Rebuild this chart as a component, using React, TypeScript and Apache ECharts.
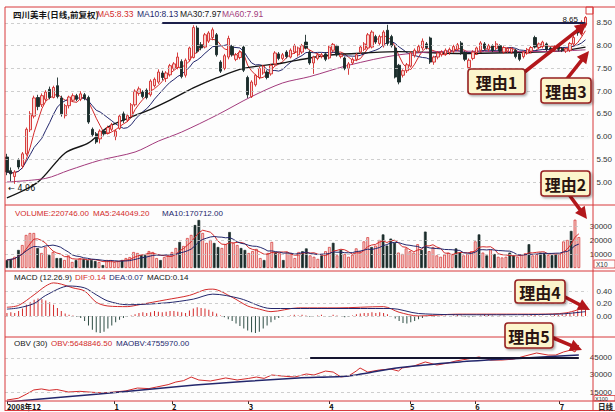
import React, { useEffect, useRef } from "react";
import * as echarts from "echarts";

// ---------- DATA ----------
const OPEN = [
  5.55, 5.25, 5.12, 5.48, 5.35, 5.62, 6.15, 6.45, 6.86, 6.7,
  6.82, 7.04, 6.86, 7.12, 6.85, 6.46, 6.68, 6.8, 6.9, 6.82,
  6.92, 6.86, 6.16, 6.06, 5.95, 6.12, 6.08, 6.16, 6.0, 6.18,
  6.5, 6.36, 6.45, 6.7, 6.95, 6.98, 7.02, 6.92, 7.12, 7.2,
  7.4, 7.28, 7.36, 7.5, 7.52, 7.65, 7.35, 7.69, 7.74, 8.39,
  8.02, 7.97, 8.1, 8.18, 8.24, 7.64, 7.5, 7.75, 7.98, 7.7,
  7.74, 7.97, 7.3, 6.88, 7.14, 7.3, 7.4, 7.42, 7.38, 7.6,
  7.82, 7.72, 7.86, 7.75, 7.86, 7.8, 7.86, 8.08, 7.86, 7.62,
  7.72, 7.76, 7.82, 7.73, 7.9, 7.99, 7.76, 7.73, 7.5, 7.62,
  7.7, 7.86, 7.92, 7.95, 7.97, 8.2, 8.05, 8.0, 8.34, 8.2,
  7.95, 7.57, 7.35, 7.45, 7.55, 7.78, 7.88, 7.95, 8.04, 8.17,
  7.64, 7.75, 7.8, 7.82, 7.85, 7.88, 7.92, 8.06, 7.85, 7.52,
  7.72, 7.85, 7.9, 8.04, 7.92, 8.0, 7.94, 8.0, 7.86, 7.88,
  7.86, 7.9, 7.82, 7.76, 7.84, 7.88, 8.18, 7.96, 7.98, 8.04,
  7.95, 7.9, 7.98, 7.94, 7.88, 7.9, 8.04, 8.36, 8.26, 8.45,
];
const CLOSE = [
  5.22, 5.18, 5.22, 5.33, 5.62, 6.16, 6.5, 6.85, 6.66, 6.9,
  6.98, 6.86, 7.08, 6.88, 6.5, 6.68, 6.87, 6.9, 6.82, 6.94,
  6.84, 6.32, 6.04, 5.88, 6.12, 6.06, 6.2, 6.26, 6.12, 6.45,
  6.36, 6.46, 6.7, 7.0, 7.05, 6.88, 6.86, 7.22, 7.26, 7.42,
  7.3, 7.4, 7.56, 7.6, 7.75, 7.32, 7.68, 7.95, 8.4, 7.88,
  7.95, 8.24, 8.28, 8.35, 7.8, 7.44, 7.78, 8.16, 7.8, 7.8,
  7.86, 7.46, 6.92, 7.2, 7.35, 7.5, 7.55, 7.3, 7.57, 7.84,
  7.72, 7.8, 7.76, 7.9, 8.0, 7.95, 8.0, 7.95, 7.62, 7.75,
  7.8, 7.8, 7.7, 7.97, 8.03, 7.8, 7.8, 7.5, 7.6, 7.7,
  7.8, 7.97, 8.04, 8.24, 8.3, 8.08, 8.2, 8.3, 8.05, 8.0,
  7.31, 7.2, 7.45, 7.58, 7.84, 7.9, 7.98, 8.1, 7.96, 7.64,
  7.75, 7.84, 7.86, 7.9, 7.92, 7.98, 8.02, 7.84, 7.7, 7.68,
  7.86, 7.95, 8.06, 7.94, 8.0, 7.9, 8.04, 7.88, 7.96, 7.94,
  7.94, 7.76, 7.7, 7.86, 7.92, 7.96, 7.97, 8.04, 8.08, 7.92,
  7.92, 7.98, 7.92, 7.9, 7.93, 8.05, 8.18, 8.28, 8.52, 8.62,
];
const LOW = [
  5.15, 5.02, 4.96, 5.28, 5.3, 5.58, 6.1, 6.4, 6.58, 6.65,
  6.78, 6.82, 6.84, 6.84, 6.44, 6.4, 6.62, 6.76, 6.78, 6.78,
  6.8, 6.28, 6.0, 5.84, 5.85, 6.02, 6.05, 6.12, 5.92, 6.15,
  6.3, 6.32, 6.42, 6.66, 6.9, 6.84, 6.82, 6.88, 7.08, 7.16,
  7.24, 7.2, 7.32, 7.46, 7.48, 7.28, 7.3, 7.65, 7.72, 7.84,
  7.9, 7.94, 8.06, 8.12, 7.76, 7.4, 7.46, 7.7, 7.76, 7.66,
  7.7, 7.42, 6.85, 6.85, 7.1, 7.26, 7.36, 7.26, 7.34, 7.56,
  7.68, 7.68, 7.72, 7.72, 7.82, 7.76, 7.82, 7.92, 7.58, 7.38,
  7.68, 7.72, 7.66, 7.7, 7.86, 7.76, 7.72, 7.46, 7.36, 7.58,
  7.66, 7.82, 7.88, 7.92, 7.94, 8.04, 8.0, 7.96, 8.0, 7.96,
  7.28, 7.15, 7.3, 7.4, 7.52, 7.74, 7.84, 7.9, 7.92, 7.6,
  7.58, 7.7, 7.76, 7.78, 7.8, 7.84, 7.88, 7.8, 7.66, 7.48,
  7.68, 7.8, 7.86, 7.9, 7.88, 7.86, 7.9, 7.84, 7.82, 7.84,
  7.82, 7.72, 7.66, 7.72, 7.8, 7.84, 7.94, 7.92, 7.94, 7.88,
  7.86, 7.86, 7.88, 7.86, 7.84, 7.86, 8.0, 8.22, 8.22, 8.4,
];
const HIGH = [
  5.62, 5.32, 5.26, 5.52, 5.66, 6.2, 6.56, 6.9, 6.92, 6.95,
  7.02, 7.1, 7.12, 7.3, 6.9, 6.72, 6.9, 6.95, 6.94, 7.0,
  6.96, 6.9, 6.2, 6.1, 6.16, 6.15, 6.24, 6.3, 6.16, 6.48,
  6.55, 6.5, 6.74, 7.04, 7.1, 7.02, 7.06, 7.26, 7.3, 7.48,
  7.45, 7.44, 7.6, 7.64, 7.85, 7.7, 7.72, 7.98, 8.45, 8.44,
  8.08, 8.28, 8.32, 8.4, 8.28, 7.68, 7.82, 8.22, 8.02, 7.84,
  7.9, 8.0, 7.34, 7.24, 7.38, 7.54, 7.58, 7.46, 7.6, 7.88,
  7.86, 7.84, 7.9, 7.94, 8.04, 7.98, 8.04, 8.24, 7.9, 7.78,
  7.84, 7.84, 7.86, 8.0, 8.06, 8.02, 7.84, 7.76, 7.64, 7.74,
  7.84, 8.0, 8.08, 8.28, 8.34, 8.24, 8.24, 8.34, 8.46, 8.24,
  8.0, 7.6, 7.48, 7.62, 7.88, 7.94, 8.02, 8.16, 8.08, 8.2,
  7.78, 7.88, 7.9, 7.94, 7.96, 8.02, 8.06, 8.1, 7.88, 7.72,
  7.9, 7.98, 8.1, 8.08, 8.04, 8.03, 8.1, 8.03, 7.99, 7.97,
  7.97, 7.93, 7.85, 7.89, 7.95, 7.99, 8.22, 8.07, 8.11, 8.07,
  7.98, 8.01, 8.01, 7.97, 7.96, 8.08, 8.22, 8.4, 8.56, 8.65,
];
const VOLUME = [
  57000, 65000, 80000, 129000, 164000, 236000, 250000, 250000, 143000, 107000,
  150000, 93000, 114000, 71000, 71000, 57000, 90000, 43000, 57000, 70000,
  64000, 57000, 57000, 50000, 43000, 21000, 57000, 57000, 43000, 50000,
  57000, 71000, 78000, 114000, 107000, 93000, 93000, 121000, 114000, 71000,
  57000, 78000, 93000, 114000, 143000, 186000, 157000, 214000, 236000, 307000,
  343000, 250000, 179000, 200000, 179000, 150000, 143000, 170000, 257000, 179000,
  164000, 143000, 129000, 107000, 121000, 136000, 71000, 57000, 107000, 186000,
  114000, 107000, 57000, 114000, 107000, 71000, 114000, 120000, 140000, 90000,
  80000, 65000, 90000, 120000, 150000, 180000, 90000, 130000, 100000, 80000,
  95000, 140000, 120000, 190000, 220000, 150000, 160000, 200000, 240000, 160000,
  210000, 180000, 110000, 100000, 140000, 120000, 110000, 170000, 130000, 260000,
  120000, 150000, 90000, 80000, 95000, 110000, 100000, 140000, 110000, 90000,
  100000, 120000, 190000, 240000, 110000, 90000, 130000, 100000, 80000, 75000,
  80000, 110000, 90000, 80000, 95000, 105000, 170000, 90000, 100000, 110000,
  107000, 93000, 92000, 95000, 99874, 189500, 200000, 265000, 345000, 220746,
];
const MACD_HIST = [
  0.05, 0.06, 0.05, 0.08, 0.12, 0.18, 0.22, 0.26, 0.28, 0.27,
  0.25, 0.22, 0.18, 0.13, 0.08, 0.04, 0.02, 0.01, -0.01, -0.03,
  -0.08, -0.15, -0.22, -0.26, -0.27, -0.25, -0.2, -0.15, -0.1, -0.06,
  -0.03, -0.01, 0.01, 0.03, 0.05, 0.06, 0.05, 0.06, 0.08, 0.07,
  0.06, 0.07, 0.08, 0.08, 0.07, 0.06, 0.05, 0.09, 0.12, 0.14,
  0.13, 0.12, 0.1, 0.07, 0.04, 0.01, -0.02, -0.05, -0.08, -0.12,
  -0.16, -0.2, -0.23, -0.26, -0.27, -0.25, -0.2, -0.15, -0.1, -0.06,
  -0.03, -0.01, 0.0, 0.01, 0.02, 0.01, 0.02, 0.01, -0.01, 0.0,
  0.01, 0.02, 0.0, -0.01, 0.02, 0.01, 0.0, -0.02, -0.01, 0.01,
  0.03, 0.04, 0.05, 0.05, 0.06, 0.05, 0.06, 0.05, 0.03, 0.0,
  -0.04, -0.08, -0.11, -0.12, -0.1, -0.08, -0.05, -0.03, -0.01, 0.0,
  -0.01, 0.0, 0.01, 0.01, 0.0, 0.01, 0.02, 0.01, -0.01, -0.02,
  -0.01, 0.0, 0.01, 0.02, 0.02, 0.01, 0.0, 0.01, 0.01, 0.0,
  -0.01, -0.01, 0.0, 0.01, 0.01, 0.02, 0.02, 0.01, 0.01, 0.0,
  0.01, 0.02, 0.02, 0.03, 0.04, 0.05, 0.07, 0.09, 0.12, 0.14,
];
// [day index, value] key points
const MA30_PTS = [
  [0, 4.65], [8, 5.0], [15, 5.64], [21, 5.86], [26, 6.21], [32, 6.43], [37, 6.6],
  [42, 6.8], [48, 7.07], [54, 7.29], [61, 7.5], [71, 7.62], [78, 7.73], [84, 7.8],
  [92, 7.84], [101, 7.87], [116, 7.83], [132, 7.85], [142, 7.88], [149, 7.97],
];
const MA60_PTS = [
  [0, 5.0], [10, 5.08], [16, 5.26], [24, 5.48], [33, 5.66], [39, 5.9], [45, 6.1],
  [54, 6.47], [63, 6.88], [71, 7.18], [78, 7.32], [88, 7.57], [101, 7.8], [116, 7.88],
  [130, 7.87], [142, 7.88], [149, 7.91],
];
const DIF_PTS = [
  [0, 0.14], [3, 0.17], [7, 0.34], [10, 0.48], [12, 0.53], [14, 0.51], [17, 0.45],
  [20, 0.4], [23, 0.22], [26, 0.16], [31, 0.15], [34, 0.18], [41, 0.26], [47, 0.33],
  [51, 0.42], [53, 0.43], [58, 0.3], [62, 0.16], [65, 0.11], [68, 0.07], [75, 0.13],
  [85, 0.13], [97, 0.15], [101, 0.06], [106, 0.0], [116, 0.03], [126, 0.03],
  [137, 0.03], [144, 0.05], [149, 0.14],
];
const DEA_PTS = [
  [0, 0.11], [3, 0.13], [7, 0.2], [10, 0.33], [16, 0.48], [20, 0.45], [23, 0.34],
  [26, 0.24], [31, 0.18], [41, 0.21], [48, 0.27], [53, 0.35], [60, 0.28], [68, 0.12],
  [78, 0.12], [91, 0.12], [99, 0.12], [106, 0.04], [121, 0.02], [142, 0.03], [149, 0.07],
];
const OBV_PTS = [
  [0, 790000], [3, 950000], [5, 1300000], [7, 1680000], [9, 1770000], [11, 1650000],
  [13, 1720000], [16, 1500000], [19, 1560000], [22, 1480000], [25, 1420000],
  [28, 1500000], [31, 1600000], [34, 1850000], [37, 1800000], [39, 1940000],
  [42, 2150000], [44, 2380000], [46, 2500000], [48, 2820000], [50, 2560000],
  [53, 2470000], [55, 2600000], [57, 2740000], [60, 2560000], [63, 2700000],
  [65, 2820000], [67, 2700000], [69, 3000000], [72, 2900000], [75, 2820000],
  [78, 3090000], [80, 3000000], [83, 3350000], [85, 3260000], [87, 2830000],
  [89, 2910000], [91, 3350000], [92, 3620000], [94, 3260000], [97, 3440000],
  [100, 3530000], [102, 3350000], [103, 3620000], [106, 3790000], [109, 4150000],
  [112, 3880000], [115, 4060000], [117, 4240000], [120, 4410000], [123, 4590000],
  [126, 4320000], [129, 4320000], [132, 4400000], [135, 4680000], [138, 4940000],
  [141, 4760000], [143, 4760000], [145, 5030000], [147, 5210000], [148, 5030000],
  [149, 5648846.5],
];
const MAOBV_PTS = [
  [0, 620000], [24, 1320000], [49, 2120000], [76, 2740000], [89, 2910000],
  [101, 3600000], [118, 4150000], [135, 4500000], [149, 4755970],
];
const MONTH_LABELS = ["2008年12", "1", "2", "3", "4", "5", "6", "7"];
const MONTH_START = [0, 28, 43, 63, 84, 105, 122, 144];
const PRICE_TICKS = [5, 5.5, 6, 6.5, 7, 7.5, 8, 8.5];
const VOLUME_TICKS = [100000, 200000, 300000];
const MACD_TICKS = [0, 0.2, 0.4];
const OBV_TICKS = [1500000, 3000000, 4500000];
const PRICE_LINE = { from: 40, value: 8.5 };
const OBV_LINE = { from: 79, value: 4500000 };
const NOTES = [
  { text: "理由1", x: 468, y: 69, w: 57, h: 25, from: [522, 74], to: [587, 23] },
  { text: "理由3", x: 541, y: 78, w: 50, h: 25, from: [566, 80], to: [589, 51] },
  { text: "理由2", x: 541, y: 171, w: 49, h: 25, from: [570, 196], to: [587, 219] },
  { text: "理由4", x: 515, y: 280, w: 50, h: 23, from: [563, 296], to: [590, 310] },
  { text: "理由5", x: 505, y: 323, w: 48, h: 25, from: [551, 337], to: [582, 350] },
];

// ---------- STYLE ----------
const FONT = '"Liberation Sans", "Noto Sans CJK SC", sans-serif';
const CJK = '"Noto Sans CJK SC", sans-serif';
const RED = "#d32a2a";
const NAVY = "#23276c";
const BLACK = "#151515";
const PURPLE = "#a23a7c";
const DOWN = "#1b2d2b";
const UPFILL = "#f8d5d1";
const FRAME = "#d8393b";
const GRIDC = "#c2c2c2";
const ARROW = "#b3171b";

function movingAverage(arr: number[], n: number) {
  return arr.map((_, i) => {
    const s = Math.max(0, i - n + 1);
    let sum = 0;
    for (let k = s; k <= i; k++) sum += arr[k];
    return sum / (i - s + 1);
  });
}

function arrowEls(x1: number, y1: number, x2: number, y2: number) {
  const dx = x2 - x1, dy = y2 - y1;
  const L = Math.hypot(dx, dy);
  const ux = dx / L, uy = dy / L;
  const head = 12, half = 6;
  const bx = x2 - ux * head, by = y2 - uy * head;
  const px = -uy, py = ux;
  return [
    { type: "line", z: 100, shape: { x1, y1, x2: bx, y2: by }, style: { stroke: ARROW, lineWidth: 3.6, lineCap: "round" } },
    {
      type: "polygon", z: 100,
      shape: { points: [[x2, y2], [bx + px * half, by + py * half], [bx - px * half, by - py * half]] },
      style: { fill: ARROW },
    },
  ];
}

function buildOption() {
  const N = CLOSE.length;
  const cats = CLOSE.map((_, i) => String(i));
  const candle = CLOSE.map((c, i) => [OPEN[i], c, LOW[i], HIGH[i]]);
  const up = (i: number) => CLOSE[i] >= OPEN[i];
  const ma5 = movingAverage(CLOSE, 5);
  const ma10 = movingAverage(CLOSE, 10);
  const vma5 = movingAverage(VOLUME, 5);
  const vma10 = movingAverage(VOLUME, 10);
  const hiVal = Math.max(...HIGH);
  const hiIdx = HIGH.indexOf(hiVal);
  const loVal = Math.min(...LOW);
  const loIdx = LOW.indexOf(loVal);
  const last = (a: number[][]) => a[a.length - 1][1];

  const grids = [
    { left: 5, width: 588, top: 7, height: 198 },
    { left: 5, width: 588, top: 205, height: 63 },
    { left: 5, width: 588, top: 271, height: 66 },
    { left: 5, width: 588, top: 337, height: 64 },
  ];
  const xAxes = grids.map((_, gi) => ({
    type: "category",
    gridIndex: gi,
    data: cats,
    boundaryGap: true,
    axisLine: { show: false },
    splitLine: { show: false },
    axisTick: gi === 3
      ? { show: true, interval: (i: number) => MONTH_START.includes(i), length: 3, alignWithLabel: true, lineStyle: { color: "#333" } }
      : { show: false },
    axisLabel: gi === 3
      ? {
          show: true,
          interval: (i: number) => MONTH_START.includes(i),
          formatter: (v: string) => {
            const k = MONTH_START.indexOf(Number(v));
            return k >= 0 ? MONTH_LABELS[k] : "";
          },
          align: "left",
          fontSize: 7.5,
          fontWeight: "bold",
          color: "#111",
          margin: 2,
          fontFamily: CJK,
        }
      : { show: false },
  }));
  const yAx = (gi: number, min: number, max: number, ticks: number[], fmt: (v: number) => string) => ({
    type: "value",
    gridIndex: gi,
    position: "right",
    min,
    max,
    splitLine: { show: false },
    axisLine: { show: false },
    axisTick: { show: false },
    axisLabel: { customValues: ticks, formatter: fmt, fontSize: 8, color: "#333", margin: 9, fontFamily: FONT },
  });
  const yAxes = [
    yAx(0, 4.494, 8.852, PRICE_TICKS, (v) => v.toFixed(2)),
    yAx(1, 0, 450000, VOLUME_TICKS, (v) => String(Math.round(v / 10))),
    yAx(2, -0.336, 0.72, MACD_TICKS, (v) => v.toFixed(2)),
    yAx(3, 705900, 6352900, OBV_TICKS, (v) => String(Math.round(v / 100))),
  ];

  const dashLines = (vals: number[]) => vals.map((v) => ({ yAxis: v }));
  const mlBase = {
    silent: true,
    symbol: ["none", "none"],
    label: { show: false },
    lineStyle: { type: [3, 3], color: GRIDC, width: 0.8 },
  };

  const line = (name: string, gi: number, data: any, color: string, width: number, smooth: number | boolean, extra: any = {}) => ({
    name,
    type: "line",
    xAxisIndex: gi,
    yAxisIndex: gi,
    data,
    showSymbol: false,
    symbol: "none",
    smooth,
    lineStyle: { color, width },
    itemStyle: { color },
    z: 3,
    ...extra,
  });

  const series: any[] = [
    {
      type: "candlestick",
      xAxisIndex: 0,
      yAxisIndex: 0,
      data: candle,
      barWidth: "72%",
      itemStyle: { color: UPFILL, color0: DOWN, borderColor: RED, borderColor0: DOWN, borderWidth: 0.9 },
      z: 4,
      markLine: {
        ...mlBase,
        data: [
          ...dashLines(PRICE_TICKS),
          [
            { coord: [String(PRICE_LINE.from), PRICE_LINE.value], lineStyle: { type: "solid", color: "#1c1f4a", width: 2 } },
            { coord: [String(N - 1), PRICE_LINE.value] },
          ],
        ],
      },
      markPoint: {
        symbol: "circle",
        symbolSize: 1,
        itemStyle: { color: "rgba(0,0,0,0)" },
        silent: true,
        data: [
          {
            coord: [String(hiIdx), hiVal],
            label: { show: true, formatter: hiVal.toFixed(2), position: "left", distance: 7, offset: [0, 3], fontSize: 8, color: "#111", fontFamily: FONT },
          },
          {
            coord: [String(loIdx), loVal],
            label: { show: true, formatter: "← " + loVal.toFixed(2), position: [-6, 1], fontSize: 8, color: "#111", fontFamily: '"DejaVu Sans", sans-serif' },
          },
        ],
      },
    },
    line("MA5", 0, ma5, RED, 1, false),
    line("MA10", 0, ma10, NAVY, 1, false),
    line("MA30", 0, MA30_PTS, BLACK, 1.4, 0.3),
    line("MA60", 0, MA60_PTS, PURPLE, 1, 0.3),
    {
      type: "bar",
      xAxisIndex: 1,
      yAxisIndex: 1,
      barWidth: "70%",
      data: VOLUME.map((v, i) => ({
        value: v,
        itemStyle: { color: up(i) ? UPFILL : DOWN, borderColor: up(i) ? RED : DOWN, borderWidth: 0.7 },
      })),
      markLine: { ...mlBase, data: dashLines(VOLUME_TICKS) },
    },
    line("VMA5", 1, vma5, RED, 1, false),
    line("VMA10", 1, vma10, NAVY, 1, false),
    {
      type: "bar",
      xAxisIndex: 2,
      yAxisIndex: 2,
      barWidth: 1,
      data: MACD_HIST.map((v) => ({ value: v, itemStyle: { color: v >= 0 ? RED : "#2e4d44" } })),
      markLine: { ...mlBase, data: dashLines(MACD_TICKS) },
    },
    line("DIF", 2, DIF_PTS, RED, 1, 0.3),
    line("DEA", 2, DEA_PTS, NAVY, 1, 0.3),
    line("OBV", 3, OBV_PTS, RED, 1, false, {
      markLine: {
        ...mlBase,
        data: [
          ...dashLines(OBV_TICKS),
          [
            { coord: [String(OBV_LINE.from), OBV_LINE.value], lineStyle: { type: "solid", color: "#151530", width: 2 } },
            { coord: [String(N - 1), OBV_LINE.value] },
          ],
        ],
      },
    }),
    line("MAOBV", 3, MAOBV_PTS, NAVY, 1.5, 0.2),
  ];

  const txt = (x: number, y: number, text: string, fill: string, extra: any = {}) => ({
    type: "text",
    x,
    y,
    z: 50,
    style: { text, fill, fontSize: 8, fontFamily: FONT, verticalAlign: "middle", ...extra },
  });
  const hline = (y: number, x1 = 5, x2 = 615) => ({
    type: "line", z: 40, shape: { x1, y1: y, x2, y2: y }, style: { stroke: FRAME, lineWidth: 1 },
  });
  const vline = (x: number, y1 = 7, y2 = 411) => ({
    type: "line", z: 40, shape: { x1: x, y1, x2: x, y2 }, style: { stroke: FRAME, lineWidth: 1 },
  });

  const graphic: any[] = [
    hline(7), hline(205), hline(271), hline(337), hline(401), hline(410.5),
    vline(5), vline(593),
    { type: "rect", z: 40, shape: { x: 586, y: 7, width: 7, height: 7 }, style: { fill: "none", stroke: FRAME, lineWidth: 1 } },
    // titles
    txt(13, 14, "四川美丰(日线,前复权)", BLACK, { fontFamily: CJK, fontWeight: "bold", fontSize: 8.5 }),
    txt(97, 14, `MA5:${ma5[N - 1].toFixed(2)}`, RED, { fontSize: 8.5 }),
    txt(137, 14, `MA10:${ma10[N - 1].toFixed(2)}`, NAVY, { fontSize: 8.5 }),
    txt(180, 14, `MA30:${last(MA30_PTS).toFixed(2)}`, BLACK, { fontSize: 8.5 }),
    txt(222, 14, `MA60:${last(MA60_PTS).toFixed(2)}`, PURPLE, { fontSize: 8.5 }),
    txt(15, 213, `VOLUME:${VOLUME[N - 1].toFixed(2)}`, RED),
    txt(93, 213, `MA5:${vma5[N - 1].toFixed(2)}`, RED),
    txt(162, 213, `MA10:${vma10[N - 1].toFixed(2)}`, NAVY),
    txt(14, 277, "MACD (12.26.9)", BLACK),
    txt(75, 277, `DIF:${last(DIF_PTS).toFixed(2)}`, RED),
    txt(109, 277, `DEA:${last(DEA_PTS).toFixed(2)}`, NAVY),
    txt(147, 277, `MACD:${MACD_HIST[N - 1].toFixed(2)}`, BLACK),
    txt(14, 343, "OBV (30)", BLACK),
    txt(51, 343, `OBV:${last(OBV_PTS).toFixed(2)}`, RED),
    txt(116, 343, `MAOBV:${last(MAOBV_PTS).toFixed(2)}`, NAVY),
    // axis unit boxes
    { type: "rect", z: 40, shape: { x: 594, y: 260, width: 21, height: 8 }, style: { fill: "none", stroke: FRAME, lineWidth: 0.8 } },
    txt(596, 264.2, "X10", "#333", { fontSize: 6.5 }),
    { type: "rect", z: 40, shape: { x: 594, y: 395.5, width: 21, height: 5.5 }, style: { fill: "none", stroke: FRAME, lineWidth: 0.8 } },
    txt(595, 398.6, "X100", "#333", { fontSize: 5.5 }),
    txt(598, 406, "日线", "#222", { fontSize: 7.5, fontFamily: CJK, fontWeight: "bold" }),
  ];
  NOTES.forEach((n) => {
    graphic.push(...arrowEls(n.from[0], n.from[1], n.to[0], n.to[1]));
  });
  NOTES.forEach((n) => {
    graphic.push({
      type: "rect",
      z: 110,
      shape: { x: n.x, y: n.y, width: n.w, height: n.h, r: 3 },
      style: {
        fill: "#fcf5cc", stroke: "#962020", lineWidth: 1.6,
        shadowBlur: 2, shadowColor: "rgba(0,0,0,0.35)", shadowOffsetX: 1.5, shadowOffsetY: 1.5,
      },
    });
    graphic.push({
      type: "text",
      z: 111,
      x: n.x + n.w / 2,
      y: n.y + n.h / 2 + 0.5,
      style: { text: n.text, fill: "#2a1410", fontSize: 16, fontWeight: "bold", fontFamily: CJK, align: "center", verticalAlign: "middle" },
    });
  });

  return {
    animation: false,
    backgroundColor: "#fdfdfd",
    grid: grids,
    xAxis: xAxes,
    yAxis: yAxes,
    series,
    graphic,
  };
}

export default function App() {
  const ref = useRef<HTMLDivElement>(null);
  useEffect(() => {
    const chart = echarts.init(ref.current!, null, { renderer: "svg" });
    chart.setOption(buildOption() as any);
    return () => chart.dispose();
  }, []);
  return (
    <div
      ref={ref}
      style={{ position: "fixed", left: 0, top: 0, width: 615, height: 412, background: "#fdfdfd" }}
    />
  );
}
